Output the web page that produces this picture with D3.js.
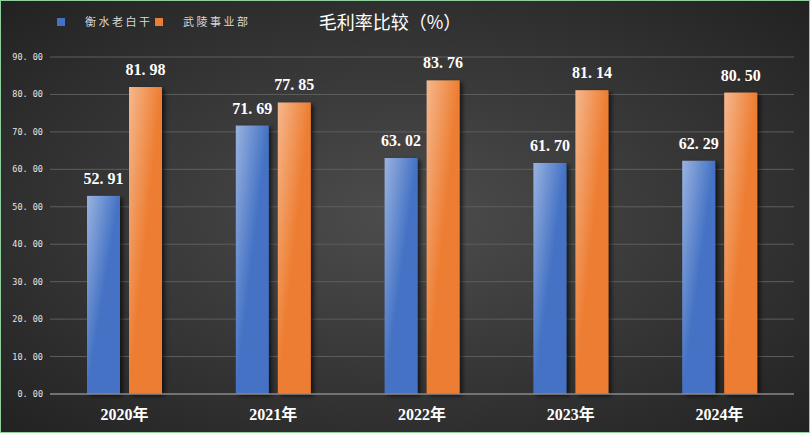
<!DOCTYPE html>
<html>
<head>
<meta charset="utf-8">
<script src="https://cdn.jsdelivr.net/npm/d3@7"></script>
<style>
  html, body { margin: 0; padding: 0; background: #2a2a2a; }
  svg { display: block; }
</style>
</head>
<body>
<div id="chart"></div>
<script>
const years = ['2020年', '2021年', '2022年', '2023年', '2024年'];
const hengshui = [52.91, 71.69, 63.02, 61.70, 62.29];
const wuling = [81.98, 77.85, 83.76, 81.14, 80.50];
const seriesNames = ['衡水老白干', '武陵事业部'];
const yTicks = [0, 10, 20, 30, 40, 50, 60, 70, 80, 90];

const width = 810;
const height = 433;
const margin = { top: 57, right: 16, bottom: 39, left: 50 };

const svg = d3.select('#chart')
  .append('svg')
  .attr('width', width)
  .attr('height', height);

const defs = svg.append('defs');

// dark background, lighter in the middle
const bg = defs.append('radialGradient')
  .attr('id', 'bg')
  .attr('cx', '50%').attr('cy', '50%').attr('r', '75%');
bg.append('stop').attr('offset', '0%').attr('stop-color', '#4d4d4d');
bg.append('stop').attr('offset', '100%').attr('stop-color', '#1f1f1f');

const addBarGrad = (id, light, dark) => {
  const g = defs.append('linearGradient')
    .attr('id', id)
    .attr('x1', '0%').attr('y1', '0%').attr('x2', '100%').attr('y2', '100%');
  g.append('stop').attr('offset', '0%').attr('stop-color', light);
  g.append('stop').attr('offset', '50%').attr('stop-color', dark);
  g.append('stop').attr('offset', '100%').attr('stop-color', dark);
};
addBarGrad('blueGrad', '#9ab3e0', '#4472c4');
addBarGrad('orangeGrad', '#f5b88e', '#ed7d31');

const shadow = defs.append('filter')
  .attr('id', 'shadow')
  .attr('x', '-30%').attr('y', '-10%').attr('width', '160%').attr('height', '130%');
shadow.append('feDropShadow')
  .attr('dx', 3).attr('dy', 2).attr('stdDeviation', 2)
  .attr('flood-color', '#000').attr('flood-opacity', 0.6);

svg.append('rect')
  .attr('x', 0.5).attr('y', 0.5)
  .attr('width', width - 1).attr('height', height - 1)
  .attr('fill', 'url(#bg)')
  .attr('stroke', '#8fd19e');

const x = d3.scaleBand()
  .domain(years)
  .range([margin.left, width - margin.right]);

// two bars per year, 33px wide with a 9px gap
const xInner = d3.scaleBand()
  .domain(seriesNames)
  .range([37, 112])
  .paddingInner(0.2143);

const y = d3.scaleLinear()
  .domain([0, 90])
  .range([height - margin.bottom, margin.top]);

// gridlines
svg.append('g')
  .selectAll('line')
  .data(yTicks.filter(t => t > 0))
  .enter()
  .append('line')
  .attr('x1', margin.left)
  .attr('x2', width - margin.right)
  .attr('y1', d => y(d))
  .attr('y2', d => y(d))
  .attr('stroke', '#5e5e5e')
  .attr('stroke-width', 1);

// y labels
svg.append('g')
  .selectAll('text')
  .data(yTicks)
  .enter()
  .append('text')
  .attr('x', 43)
  .attr('y', d => y(d) + 3)
  .attr('text-anchor', 'end')
  .attr('fill', '#e6e6e6')
  .attr('font-family', 'DejaVu Sans Mono, monospace')
  .attr('font-size', 8.5)
  .text(d => d.toFixed(2).replace('.', '. '));

const rows = years.map((yr, i) => ({ year: yr, values: [hengshui[i], wuling[i]] }));
const fills = ['url(#blueGrad)', 'url(#orangeGrad)'];

const groups = svg.append('g')
  .selectAll('g')
  .data(rows)
  .enter()
  .append('g')
  .attr('transform', d => `translate(${x(d.year)},0)`);

groups.selectAll('rect')
  .data(d => d.values.map((v, j) => ({ name: seriesNames[j], v, j })))
  .enter()
  .append('rect')
  .attr('x', d => xInner(d.name))
  .attr('width', xInner.bandwidth())
  .attr('y', d => y(d.v))
  .attr('height', d => y(0) - y(d.v))
  .attr('fill', d => fills[d.j])
  .attr('filter', 'url(#shadow)');

groups.selectAll('text.val')
  .data(d => d.values.map((v, j) => ({ name: seriesNames[j], v, j })))
  .enter()
  .append('text')
  .attr('class', 'val')
  .attr('x', d => xInner(d.name) + xInner.bandwidth() / 2)
  .attr('y', d => y(d.v) - 12)
  .attr('text-anchor', 'middle')
  .attr('fill', '#ffffff')
  .attr('font-family', 'Liberation Serif, DejaVu Serif, serif')
  .attr('font-weight', 'bold')
  .attr('font-size', 16)
  .text(d => d.v.toFixed(2).replace('.', '. '));

// axis line
svg.append('line')
  .attr('x1', margin.left)
  .attr('x2', width - margin.right)
  .attr('y1', y(0))
  .attr('y2', y(0))
  .attr('stroke', '#8a8a8a')
  .attr('stroke-width', 1.5);

// year labels
svg.append('g')
  .selectAll('text')
  .data(years)
  .enter()
  .append('text')
  .attr('x', d => x(d) + x.bandwidth() / 2)
  .attr('y', 420)
  .attr('text-anchor', 'middle')
  .attr('fill', '#ffffff')
  .attr('font-family', 'Liberation Serif, Noto Sans CJK SC, serif')
  .attr('font-weight', 'bold')
  .attr('font-size', 16)
  .text(d => d);

// title
svg.append('text')
  .attr('x', 390)
  .attr('y', 29)
  .attr('text-anchor', 'middle')
  .attr('fill', '#ffffff')
  .attr('font-family', 'Noto Sans CJK SC, sans-serif')
  .attr('font-size', 18)
  .text('毛利率比较（%）');

// legend
const legendColors = ['#4472c4', '#ed7d31'];
const legendX = [57, 155];
const legend = svg.append('g')
  .selectAll('g')
  .data(seriesNames)
  .enter()
  .append('g')
  .attr('transform', (d, i) => `translate(${legendX[i]},18)`);
legend.append('rect')
  .attr('width', 8).attr('height', 8)
  .attr('fill', (d, i) => legendColors[i]);
legend.append('text')
  .attr('x', 28)
  .attr('y', 8)
  .attr('fill', '#d9d9d9')
  .attr('font-family', 'Noto Sans CJK SC, sans-serif')
  .attr('font-size', 11)
  .attr('letter-spacing', 2.5)
  .text(d => d);
</script>
</body>
</html>
